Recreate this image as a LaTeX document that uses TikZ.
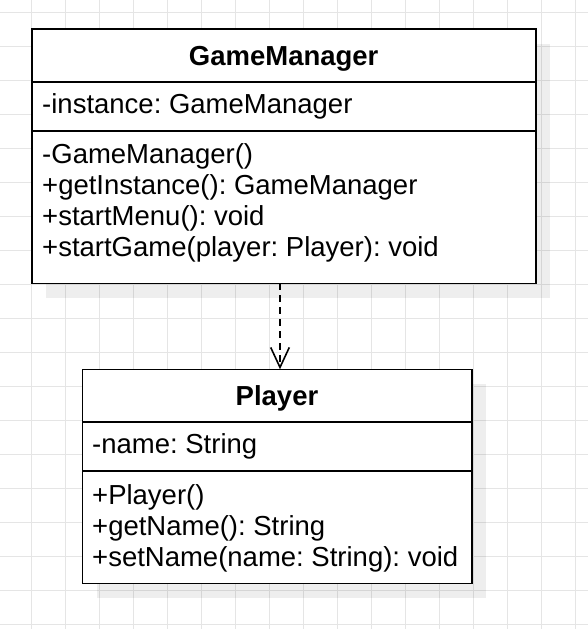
\documentclass[tikz,border=0pt]{standalone}
\usepackage{fontspec}
\setmainfont{Liberation Sans}
\usetikzlibrary{arrows.meta}
\definecolor{gridgray}{RGB}{229,229,229}
\frenchspacing

\tikzset{
  compartment/.style={draw, line width=1.6pt, fill=white, anchor=north west, inner sep=0pt, outer sep=0pt},
  member/.style={anchor=base west, inner sep=0pt, font=\fontsize{27.5}{31}\selectfont},
  classname/.style={anchor=base, inner sep=0pt, font=\fontsize{27.5}{31}\selectfont\bfseries},
  classshadow/.style={fill=black, opacity=0.065},
  gridline/.style={gridgray, line width=1pt},
  dependency/.style={line width=1.6pt, dash pattern=on 7pt off 5pt, -{Straight Barb[length=20pt,width=18.6pt]}}
}

\begin{document}
\begin{tikzpicture}[x=1pt, y=-1pt]
  \useasboundingbox (0,0) rectangle (588,629);
  \fill[white] (0,0) rectangle (588,629);

  % Background grid
  \foreach \gx in {-2.3,31.7,...,576} \draw[gridline] (\gx,0) -- (\gx,629);
  \foreach \gy in {12,46,...,625} \draw[gridline] (0,\gy) -- (588,\gy);

  % Shadows
  \fill[classshadow] (46.2,43.5) rectangle (550.2,297.8);
  \fill[classshadow] (96.8,383.8) rectangle (486.2,597.8);

  % GameManager class
  \node[compartment, minimum width=504pt, minimum height=52.7pt] (gmhead) at (31.7,29) {};
  \node[compartment, minimum width=504pt, minimum height=49pt] (gmattr) at (31.7,81.7) {};
  \node[compartment, minimum width=504pt, minimum height=152.6pt] (gmops) at (31.7,130.7) {};
  \node[classname] (gmname) at (283.7,65) {GameManager};
  \node[member] (gminstance) at (42,113.3) {-instance: GameManager};
  \node[member] (gmctor) at (42,163.5) {-GameManager()};
  \node[member] (gmgetinstance) at (42,194.5) {+getInstance(): GameManager};
  \node[member] (gmstartmenu) at (42,225.5) {+startMenu(): void};
  \node[member] (gmstartgame) at (42,256.5) {+startGame(player: Player): void};

  % Player class
  \node[compartment, minimum width=389.4pt, minimum height=52.4pt] (plhead) at (82.3,369.3) {};
  \node[compartment, minimum width=389.4pt, minimum height=49pt] (plattr) at (82.3,421.7) {};
  \node[compartment, minimum width=389.4pt, minimum height=112.6pt] (plops) at (82.3,470.7) {};
  \node[classname] (plname) at (277,405) {Player};
  \node[member] (plnameattr) at (92,453.3) {-name: String};
  \node[member] (plctor) at (92,504) {+Player()};
  \node[member] (plgetname) at (92,535) {+getName(): String};
  \node[member] (plsetname) at (92,566.5) {+setName(name: String): void};

  % Dependency
  \draw[dependency] ([xshift=-3.7pt]gmops.south) -- ([xshift=3pt]plhead.north);
\end{tikzpicture}
\end{document}
